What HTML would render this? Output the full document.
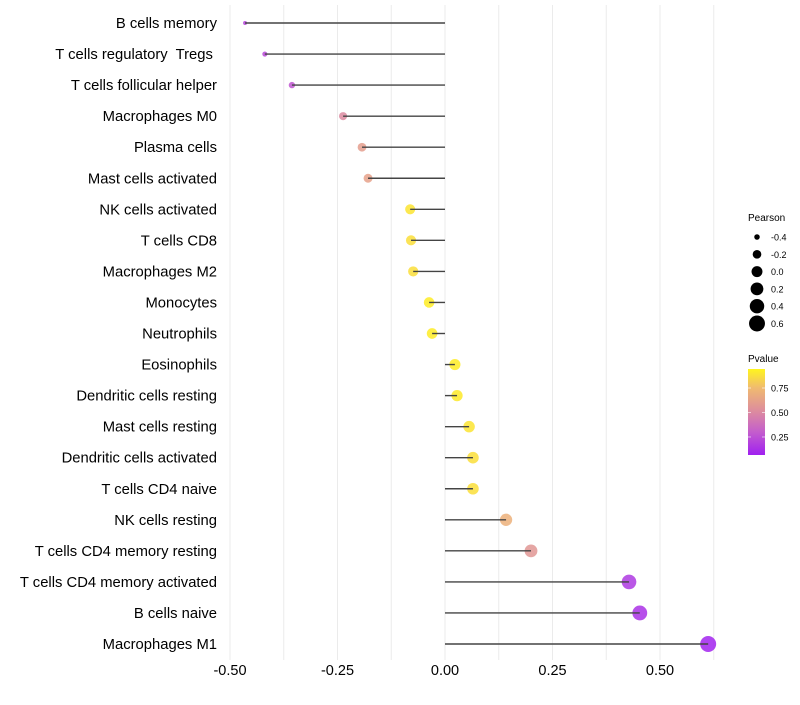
<!DOCTYPE html>
<html><head><meta charset="utf-8"><style>
body{margin:0;background:#fff;font-family:"Liberation Sans",sans-serif}
</style></head><body>
<svg id="chart" width="800" height="700" xmlns="http://www.w3.org/2000/svg" font-family="Liberation Sans, sans-serif">
<defs><linearGradient id="pg" x1="0" y1="1" x2="0" y2="0">
<stop offset="0" stop-color="#A020F0"/><stop offset="0.27" stop-color="#C45ECC"/><stop offset="0.5" stop-color="#DC8AA0"/><stop offset="0.78" stop-color="#F0BA70"/><stop offset="1" stop-color="#FFF51E"/></linearGradient></defs>
<g id="grid"></g><g id="marks"></g><g id="labels"></g><g id="legend"></g>
</svg>
<script>
const categories=["B cells memory","T cells regulatory\u00a0 Tregs\u00a0","T cells follicular helper","Macrophages M0","Plasma cells","Mast cells activated","NK cells activated","T cells CD8","Macrophages M2","Monocytes","Neutrophils","Eosinophils","Dendritic cells resting","Mast cells resting","Dendritic cells activated","T cells CD4 naive","NK cells resting","T cells CD4 memory resting","T cells CD4 memory activated","B cells naive","Macrophages M1"];
const pearson=[-0.465,-0.419,-0.356,-0.237,-0.193,-0.179,-0.081,-0.079,-0.074,-0.037,-0.030,0.023,0.028,0.056,0.065,0.065,0.142,0.200,0.428,0.453,0.612];
const pvalue=[0.2,0.22,0.27,0.5,0.6,0.62,0.9,0.88,0.88,0.93,0.93,0.93,0.92,0.9,0.88,0.88,0.7,0.56,0.16,0.13,0.08];
const xTicks=[-0.5,-0.25,0,0.25,0.5];
const xTickLabels=["-0.50","-0.25","0.00","0.25","0.50"];
const sizeLegend=[-0.4,-0.2,0.0,0.2,0.4,0.6];
const sizeLegendLabels=["-0.4","-0.2","0.0","0.2","0.4","0.6"];
const pTicks=[0.25,0.5,0.75];
const pTickLabels=["0.25","0.50","0.75"];

const NS="http://www.w3.org/2000/svg";
const X=v=>445+v*430;
const Y=i=>23+i*31.05;
const R=v=>Math.sqrt(Math.max(1,4+(v+0.465)*55.7));
const stops=[[0.066,[160,32,240]],[0.3,[196,94,204]],[0.5,[220,138,160]],[0.75,[240,186,112]],[0.944,[255,240,30]]];
function col(p){if(p<=stops[0][0])return`rgb(${stops[0][1]})`;for(let k=1;k<stops.length;k++){if(p<=stops[k][0]){const a=stops[k-1],b=stops[k],t=(p-a[0])/(b[0]-a[0]);return`rgb(${a[1].map((c,j)=>Math.round(c+(b[1][j]-c)*t))})`;}}return`rgb(${stops[stops.length-1][1]})`;}
function mk(t,at,parent){const e=document.createElementNS(NS,t);for(const k in at)e.setAttribute(k,at[k]);parent.appendChild(e);return e;}
const grid=document.getElementById('grid'),marks=document.getElementById('marks'),labels=document.getElementById('labels'),legend=document.getElementById('legend');
for(let v=-0.5;v<=0.625;v+=0.125){const g=mk('line',{x1:X(v),x2:X(v),y1:5,y2:660,stroke:'#ebebeb','stroke-width':1},grid);

}
xTicks.forEach((v,i)=>{const t=mk('text',{x:X(v),y:675,'text-anchor':'middle','font-size':14.5,fill:'#000'},labels);t.textContent=xTickLabels[i];

});
categories.forEach((c,i)=>{
const t=mk('text',{x:217,y:Y(i)+5,'text-anchor':'end','font-size':14.8,fill:'#000'},labels);t.textContent=c;


const pt=mk('circle',{cx:X(pearson[i]),cy:Y(i),r:R(pearson[i]),fill:col(pvalue[i]),'fill-opacity':0.85},marks);


const s=mk('line',{x1:X(0),x2:X(pearson[i]),y1:Y(i),y2:Y(i),stroke:'#444','stroke-width':1.4},marks);


});
let t=mk('text',{x:748,y:221,'font-size':10},legend);t.textContent='Pearson';


sizeLegend.forEach((v,i)=>{const y=237+i*17.3;
const c=mk('circle',{cx:757,cy:y,r:R(v),fill:'#000'},legend);


const l=mk('text',{x:771,y:y+3.5,'font-size':9},legend);l.textContent=sizeLegendLabels[i];

});
t=mk('text',{x:748,y:362,'font-size':10},legend);t.textContent='Pvalue';


const bar=mk('rect',{x:748,y:369,width:17,height:86,fill:'url(#pg)'},legend);


const PY=p=>455-(p-0.066)/(0.944-0.066)*86;
pTicks.forEach((p,i)=>{mk('line',{x1:748,x2:751,y1:PY(p),y2:PY(p),stroke:'#fff','stroke-opacity':0.6},legend);mk('line',{x1:762,x2:765,y1:PY(p),y2:PY(p),stroke:'#fff','stroke-opacity':0.6},legend);
const l=mk('text',{x:771,y:PY(p)+3.5,'font-size':9},legend);l.textContent=pTickLabels[i];

});
</script>
</body></html>
